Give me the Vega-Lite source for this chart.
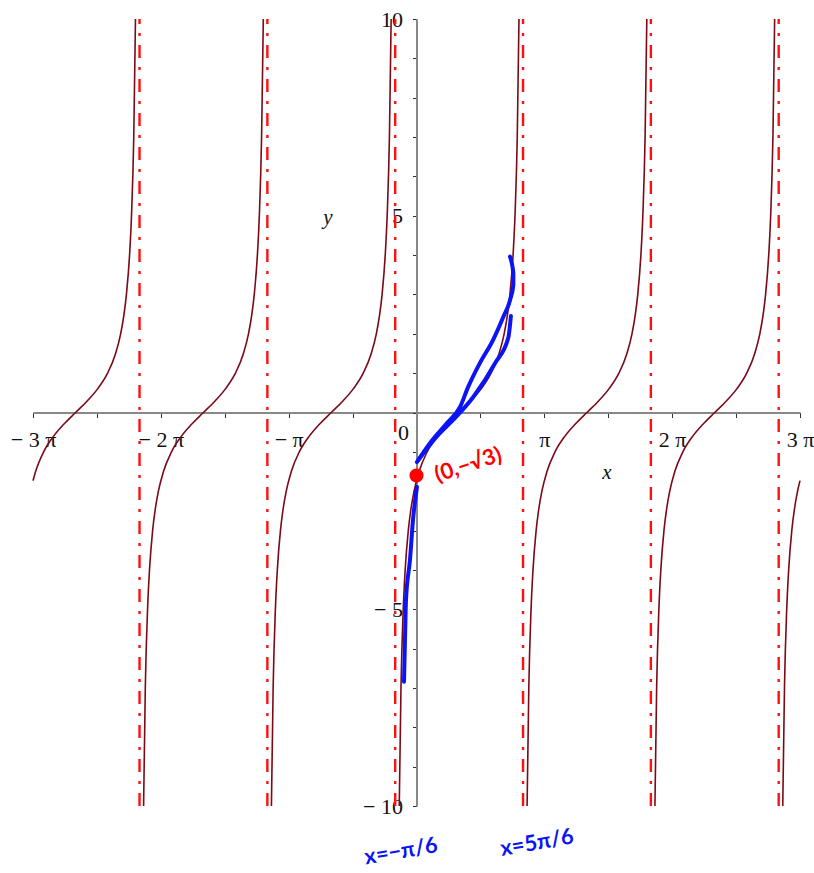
{
  "$schema": "https://vega.github.io/schema/vega-lite/v6.json",
  "width": 767,
  "height": 787,
  "autosize": {"type": "none"},
  "padding": {"left": 33, "top": 19, "right": 14, "bottom": 67},
  "background": "white",
  "config": {"view": {"stroke": null}},
  "resolve": {"axis": {"y": "independent"}},
  "datasets": {
    "curve": [
      {"b": -3, "x": -9.42478, "y": -1.7321},
      {"b": -3, "x": -9.36037, "y": -1.5},
      {"b": -3, "x": -9.16298, "y": -1},
      {"b": -3, "x": -8.91800, "y": -0.6},
      {"b": -3, "x": -8.66904, "y": -0.3},
      {"b": -3, "x": -8.37758, "y": 0},
      {"b": -3, "x": -8.08612, "y": 0.3},
      {"b": -3, "x": -7.83716, "y": 0.6},
      {"b": -3, "x": -7.59218, "y": 1},
      {"b": -3, "x": -7.39479, "y": 1.5},
      {"b": -3, "x": -7.27043, "y": 2},
      {"b": -3, "x": -7.18729, "y": 2.5},
      {"b": -3, "x": -7.12853, "y": 3},
      {"b": -3, "x": -7.05176, "y": 4},
      {"b": -3, "x": -7.00418, "y": 5},
      {"b": -3, "x": -6.94868, "y": 7},
      {"b": -3, "x": -6.90645, "y": 10},
      {"b": -2, "x": -6.70712, "y": -10},
      {"b": -2, "x": -6.66489, "y": -7},
      {"b": -2, "x": -6.60939, "y": -5},
      {"b": -2, "x": -6.56181, "y": -4},
      {"b": -2, "x": -6.48504, "y": -3},
      {"b": -2, "x": -6.42628, "y": -2.5},
      {"b": -2, "x": -6.34314, "y": -2},
      {"b": -2, "x": -6.21878, "y": -1.5},
      {"b": -2, "x": -6.02139, "y": -1},
      {"b": -2, "x": -5.77641, "y": -0.6},
      {"b": -2, "x": -5.52745, "y": -0.3},
      {"b": -2, "x": -5.23599, "y": 0},
      {"b": -2, "x": -4.94453, "y": 0.3},
      {"b": -2, "x": -4.69557, "y": 0.6},
      {"b": -2, "x": -4.45059, "y": 1},
      {"b": -2, "x": -4.25320, "y": 1.5},
      {"b": -2, "x": -4.12884, "y": 2},
      {"b": -2, "x": -4.04570, "y": 2.5},
      {"b": -2, "x": -3.98694, "y": 3},
      {"b": -2, "x": -3.91017, "y": 4},
      {"b": -2, "x": -3.86259, "y": 5},
      {"b": -2, "x": -3.80709, "y": 7},
      {"b": -2, "x": -3.76486, "y": 10},
      {"b": -1, "x": -3.56553, "y": -10},
      {"b": -1, "x": -3.52330, "y": -7},
      {"b": -1, "x": -3.46780, "y": -5},
      {"b": -1, "x": -3.42022, "y": -4},
      {"b": -1, "x": -3.34345, "y": -3},
      {"b": -1, "x": -3.28469, "y": -2.5},
      {"b": -1, "x": -3.20155, "y": -2},
      {"b": -1, "x": -3.07719, "y": -1.5},
      {"b": -1, "x": -2.87980, "y": -1},
      {"b": -1, "x": -2.63482, "y": -0.6},
      {"b": -1, "x": -2.38586, "y": -0.3},
      {"b": -1, "x": -2.09440, "y": 0},
      {"b": -1, "x": -1.80294, "y": 0.3},
      {"b": -1, "x": -1.55398, "y": 0.6},
      {"b": -1, "x": -1.30900, "y": 1},
      {"b": -1, "x": -1.11161, "y": 1.5},
      {"b": -1, "x": -0.98725, "y": 2},
      {"b": -1, "x": -0.90411, "y": 2.5},
      {"b": -1, "x": -0.84535, "y": 3},
      {"b": -1, "x": -0.76858, "y": 4},
      {"b": -1, "x": -0.72100, "y": 5},
      {"b": -1, "x": -0.66550, "y": 7},
      {"b": -1, "x": -0.62327, "y": 10},
      {"b": 0, "x": -0.42393, "y": -10},
      {"b": 0, "x": -0.38170, "y": -7},
      {"b": 0, "x": -0.32620, "y": -5},
      {"b": 0, "x": -0.27862, "y": -4},
      {"b": 0, "x": -0.20185, "y": -3},
      {"b": 0, "x": -0.14309, "y": -2.5},
      {"b": 0, "x": -0.05995, "y": -2},
      {"b": 0, "x": 0.06441, "y": -1.5},
      {"b": 0, "x": 0.26180, "y": -1},
      {"b": 0, "x": 0.50678, "y": -0.6},
      {"b": 0, "x": 0.75574, "y": -0.3},
      {"b": 0, "x": 1.04720, "y": 0},
      {"b": 0, "x": 1.33866, "y": 0.3},
      {"b": 0, "x": 1.58762, "y": 0.6},
      {"b": 0, "x": 1.83260, "y": 1},
      {"b": 0, "x": 2.02999, "y": 1.5},
      {"b": 0, "x": 2.15435, "y": 2},
      {"b": 0, "x": 2.23749, "y": 2.5},
      {"b": 0, "x": 2.29625, "y": 3},
      {"b": 0, "x": 2.37302, "y": 4},
      {"b": 0, "x": 2.42060, "y": 5},
      {"b": 0, "x": 2.47610, "y": 7},
      {"b": 0, "x": 2.51833, "y": 10},
      {"b": 1, "x": 2.71766, "y": -10},
      {"b": 1, "x": 2.75989, "y": -7},
      {"b": 1, "x": 2.81539, "y": -5},
      {"b": 1, "x": 2.86297, "y": -4},
      {"b": 1, "x": 2.93974, "y": -3},
      {"b": 1, "x": 2.99850, "y": -2.5},
      {"b": 1, "x": 3.08164, "y": -2},
      {"b": 1, "x": 3.20600, "y": -1.5},
      {"b": 1, "x": 3.40339, "y": -1},
      {"b": 1, "x": 3.64837, "y": -0.6},
      {"b": 1, "x": 3.89733, "y": -0.3},
      {"b": 1, "x": 4.18879, "y": 0},
      {"b": 1, "x": 4.48025, "y": 0.3},
      {"b": 1, "x": 4.72921, "y": 0.6},
      {"b": 1, "x": 4.97419, "y": 1},
      {"b": 1, "x": 5.17158, "y": 1.5},
      {"b": 1, "x": 5.29594, "y": 2},
      {"b": 1, "x": 5.37908, "y": 2.5},
      {"b": 1, "x": 5.43784, "y": 3},
      {"b": 1, "x": 5.51461, "y": 4},
      {"b": 1, "x": 5.56219, "y": 5},
      {"b": 1, "x": 5.61769, "y": 7},
      {"b": 1, "x": 5.65992, "y": 10},
      {"b": 2, "x": 5.85925, "y": -10},
      {"b": 2, "x": 5.90148, "y": -7},
      {"b": 2, "x": 5.95698, "y": -5},
      {"b": 2, "x": 6.00456, "y": -4},
      {"b": 2, "x": 6.08133, "y": -3},
      {"b": 2, "x": 6.14009, "y": -2.5},
      {"b": 2, "x": 6.22323, "y": -2},
      {"b": 2, "x": 6.34759, "y": -1.5},
      {"b": 2, "x": 6.54498, "y": -1},
      {"b": 2, "x": 6.78996, "y": -0.6},
      {"b": 2, "x": 7.03892, "y": -0.3},
      {"b": 2, "x": 7.33038, "y": 0},
      {"b": 2, "x": 7.62184, "y": 0.3},
      {"b": 2, "x": 7.87080, "y": 0.6},
      {"b": 2, "x": 8.11578, "y": 1},
      {"b": 2, "x": 8.31317, "y": 1.5},
      {"b": 2, "x": 8.43753, "y": 2},
      {"b": 2, "x": 8.52067, "y": 2.5},
      {"b": 2, "x": 8.57943, "y": 3},
      {"b": 2, "x": 8.65620, "y": 4},
      {"b": 2, "x": 8.70378, "y": 5},
      {"b": 2, "x": 8.75928, "y": 7},
      {"b": 2, "x": 8.80151, "y": 10},
      {"b": 3, "x": 9.00085, "y": -10},
      {"b": 3, "x": 9.04308, "y": -7},
      {"b": 3, "x": 9.09858, "y": -5},
      {"b": 3, "x": 9.14616, "y": -4},
      {"b": 3, "x": 9.22293, "y": -3},
      {"b": 3, "x": 9.28169, "y": -2.5},
      {"b": 3, "x": 9.36483, "y": -2},
      {"b": 3, "x": 9.42478, "y": -1.7321}
    ],
    "asym": [
      {"x": -6.80678}, {"x": -3.66519}, {"x": -0.52360},
      {"x": 2.61799}, {"x": 5.75959}, {"x": 8.90118}
    ],
    "blue": [
      {"s": "A", "i": 0, "x": 0.012, "y": -1.89},
      {"s": "A", "i": 1, "x": -0.086, "y": -2.73},
      {"s": "A", "i": 2, "x": -0.160, "y": -3.74},
      {"s": "A", "i": 3, "x": -0.258, "y": -4.76},
      {"s": "A", "i": 4, "x": -0.283, "y": -5.77},
      {"s": "A", "i": 5, "x": -0.307, "y": -6.84},
      {"s": "B", "i": 0, "x": 0.01, "y": -1.26},
      {"s": "B", "i": 1, "x": 0.33, "y": -0.78},
      {"s": "B", "i": 2, "x": 0.75, "y": -0.27},
      {"s": "B", "i": 3, "x": 1.07, "y": 0.14},
      {"s": "B", "i": 4, "x": 1.27, "y": 0.65},
      {"s": "B", "i": 5, "x": 1.56, "y": 1.26},
      {"s": "B", "i": 6, "x": 1.88, "y": 1.84},
      {"s": "B", "i": 7, "x": 2.13, "y": 2.42},
      {"s": "B", "i": 8, "x": 2.30, "y": 2.86},
      {"s": "B", "i": 9, "x": 2.38, "y": 3.24},
      {"s": "B", "i": 10, "x": 2.38, "y": 3.54},
      {"s": "B", "i": 11, "x": 2.298, "y": 3.96},
      {"s": "C", "i": 0, "x": 0.045, "y": -1.21},
      {"s": "C", "i": 1, "x": 0.50, "y": -0.61},
      {"s": "C", "i": 2, "x": 0.90, "y": -0.19},
      {"s": "C", "i": 3, "x": 1.40, "y": 0.40},
      {"s": "C", "i": 4, "x": 1.93, "y": 1.25},
      {"s": "C", "i": 5, "x": 2.26, "y": 1.92},
      {"s": "C", "i": 6, "x": 2.32, "y": 2.45}
    ],
    "dot": [{"x": 0, "y": -1.6}],
    "axisTitles": [
      {"x": 4.68, "y": -1.54, "t": "x"},
      {"x": -2.18, "y": 4.94, "t": "y"}
    ],
    "redText": [{"x": 1.27, "y": -1.33, "t": "(0,−√3)"}],
    "blueText": [
      {"x": -0.38, "y": -11.15, "t": "x=−π/6"},
      {"x": 2.96, "y": -10.93, "t": "x=5π/6"}
    ]
  },
  "layer": [
    {
      "data": {"name": "curve"},
      "mark": {"type": "line", "color": "#7a0a16", "strokeWidth": 1.6, "interpolate": "monotone"},
      "encoding": {
        "x": {
          "field": "x", "type": "quantitative",
          "scale": {"domain": [-9.42478, 9.42478], "nice": false, "zero": false},
          "axis": {
            "orient": "bottom",
            "offset": -393.5,
            "title": null,
            "grid": false,
            "values": [-9.42478, -8.63938, -7.85398, -7.06858, -6.28319, -5.49779, -4.71239, -3.92699, -3.14159, -2.35619, -1.5708, -0.7854, 0, 0.7854, 1.5708, 2.35619, 3.14159, 3.92699, 4.71239, 5.49779, 6.28319, 7.06858, 7.85398, 8.63938, 9.42478],
            "labelExpr": "(round(datum.value*4/PI) % 4 != 0) ? '' : (round(datum.value/PI) == 0 ? '0' : (round(datum.value/PI) == 1 ? 'π' : (round(datum.value/PI) == -1 ? '− π' : (round(datum.value/PI) < 0 ? '− ' + abs(round(datum.value/PI)) + ' π' : round(datum.value/PI) + ' π'))))",
            "labelFont": "Liberation Serif",
            "labelFontSize": 22,
            "labelColor": "#111111",
            "labelOverlap": false,
            "labelBound": false,
            "labelFlush": false,
            "labelAlign": {"condition": {"test": "datum.value == 0", "value": "right"}, "value": "center"},
            "labelOffset": {"condition": {"test": "datum.value == 0", "value": -8}, "value": 0},
            "labelPadding": {"condition": {"test": "datum.value == 0", "value": 5}, "value": 12},
            "labelBaseline": "top",
            "domainColor": "#888888",
            "domainWidth": 2,
            "tickColor": "#333333",
            "tickWidth": 1,
            "tickSize": 5
          }
        },
        "y": {
          "field": "y", "type": "quantitative",
          "scale": {"domain": [-10, 10], "nice": false, "zero": false},
          "axis": {
            "orient": "left",
            "offset": -383.5,
            "title": null,
            "grid": false,
            "values": [-10, -9, -8, -7, -6, -5, -4, -3, -2, -1, 0, 1, 2, 3, 4, 5, 6, 7, 8, 9, 10],
            "labels": false,
            "domainColor": "#888888",
            "domainWidth": 2,
            "tickColor": "#333333",
            "tickWidth": 1,
            "tickSize": 4
          }
        },
        "detail": {"field": "b", "type": "nominal"}
      }
    },
    {
      "data": {"name": "asym"},
      "mark": {"type": "rule", "color": "#ff1010", "strokeWidth": 2.4, "strokeDash": [13, 9, 3, 9]},
      "encoding": {
        "x": {"field": "x", "type": "quantitative"},
        "y": {
          "datum": -10, "type": "quantitative",
          "axis": {
            "orient": "left",
            "offset": -383.5,
            "title": null,
            "grid": false,
            "values": [-10, -5, 5, 10],
            "labelExpr": "datum.value < 0 ? '− ' + abs(datum.value) : datum.value + ''",
            "labelFont": "Liberation Serif",
            "labelFontSize": 22,
            "labelColor": "#111111",
            "labelOverlap": false,
            "labelBound": false,
            "labelFlush": false,
            "labelPadding": 14,
            "ticks": false,
            "domain": false
          }
        },
        "y2": {"datum": 10}
      }
    },
    {
      "data": {"name": "blue"},
      "mark": {"type": "line", "color": "#0a14f5", "strokeWidth": 4, "strokeCap": "round", "strokeJoin": "round", "interpolate": "monotone"},
      "encoding": {
        "x": {"field": "x", "type": "quantitative"},
        "y": {"field": "y", "type": "quantitative", "axis": null},
        "detail": {"field": "s", "type": "nominal"},
        "order": {"field": "i", "type": "quantitative"}
      }
    },
    {
      "data": {"name": "dot"},
      "mark": {"type": "point", "filled": true, "color": "#ff0000", "size": 200, "opacity": 1},
      "encoding": {
        "x": {"field": "x", "type": "quantitative"},
        "y": {"field": "y", "type": "quantitative", "axis": null}
      }
    },
    {
      "data": {"name": "axisTitles"},
      "mark": {"type": "text", "font": "Liberation Serif", "fontStyle": "italic", "fontSize": 21, "color": "#111111"},
      "encoding": {
        "x": {"field": "x", "type": "quantitative"},
        "y": {"field": "y", "type": "quantitative", "axis": null},
        "text": {"field": "t"}
      }
    },
    {
      "data": {"name": "redText"},
      "mark": {"type": "text", "font": "Lato", "fontWeight": "bold", "fontSize": 22, "color": "#ff0000", "angle": 342},
      "encoding": {
        "x": {"field": "x", "type": "quantitative"},
        "y": {"field": "y", "type": "quantitative", "axis": null},
        "text": {"field": "t"}
      }
    },
    {
      "data": {"name": "blueText"},
      "mark": {"type": "text", "font": "Lato", "fontWeight": "bold", "fontSize": 22, "color": "#0a14f5", "angle": 350},
      "encoding": {
        "x": {"field": "x", "type": "quantitative"},
        "y": {"field": "y", "type": "quantitative", "axis": null},
        "text": {"field": "t"}
      }
    }
  ]
}
